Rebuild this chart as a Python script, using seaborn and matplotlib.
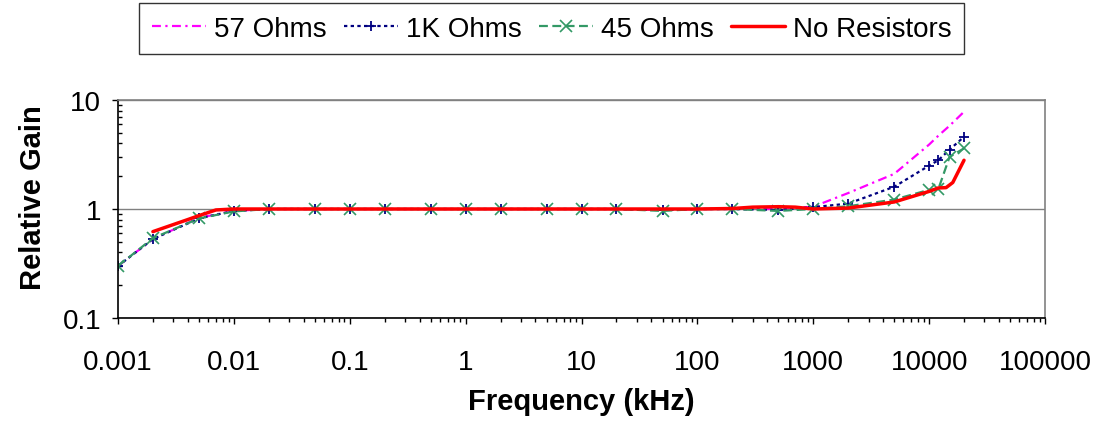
"""Relative gain vs frequency for different termination resistors (log-log)."""
import matplotlib
matplotlib.use("Agg")
import matplotlib.pyplot as plt
from matplotlib.ticker import FuncFormatter, LogLocator, NullFormatter
import seaborn as sns
import pandas as pd

# --- data ---
freq_khz = [0.001, 0.002, 0.005, 0.01, 0.02, 0.05, 0.1, 0.2, 0.5, 1, 2, 5, 10, 20,
            50, 100, 200, 500, 1000, 2000, 5000, 10000, 12000, 15000, 20000]
gain_57 = [0.30, 0.53, 0.83, 0.96, 1.0, 1.0, 1.0, 1.0, 1.0, 1.0, 1.0, 1.0, 1.0, 1.0,
           0.98, 1.0, 1.0, 1.0, 1.05, 1.4, 2.1, 3.9, 4.7, 5.8, 7.8]
gain_1k = [0.30, 0.53, 0.82, 0.96, 1.0, 1.0, 1.0, 1.0, 1.0, 1.0, 1.0, 1.0, 1.0, 1.0,
           0.98, 1.0, 1.0, 0.98, 1.04, 1.12, 1.6, 2.5, 2.8, 3.5, 4.6]
gain_45 = [0.30, 0.54, 0.82, 0.95, 1.0, 1.0, 1.0, 1.0, 1.0, 1.0, 1.0, 1.0, 1.0, 1.0,
           0.96, 1.0, 1.0, 0.96, 1.0, 1.06, 1.22, 1.5, 1.52, 3.0, 3.6]

freq_nores = [0.002, 0.004, 0.005, 0.007, 0.01, 0.1, 1, 10, 100, 200, 300, 500, 700,
              1000, 2000, 5000, 10000, 12000, 14000, 16000, 20000]
gain_nores = [0.62, 0.80, 0.87, 0.98, 1.0, 1.0, 1.0, 1.0, 1.0, 1.01, 1.04, 1.05, 1.04,
              1.0, 1.02, 1.16, 1.45, 1.56, 1.57, 1.75, 2.8]

x_ticks = [0.001, 0.01, 0.1, 1, 10, 100, 1000, 10000, 100000]
y_ticks = [0.1, 1, 10]

sns.set_style("white")
plt.rcParams["font.family"] = ["Liberation Sans", "DejaVu Sans"]
plt.rcParams.update({"text.color": "black", "axes.labelcolor": "black",
                     "xtick.color": "black", "ytick.color": "black"})

fig = plt.figure(figsize=(10.97, 4.27), dpi=100)
ax = fig.add_axes([0.1076, 0.2529, 0.8450, 0.5106])

df_main = pd.DataFrame({"f": freq_khz, "g57": gain_57, "g1k": gain_1k, "g45": gain_45})
df_nr = pd.DataFrame({"f": freq_nores, "g": gain_nores})

# seaborn defaults markeredgecolor to white, so set it explicitly
sns.lineplot(data=df_main, x="f", y="g57", ax=ax, color="#FF00FF", lw=1.6,
             linestyle=(0, (4, 2, 1, 2)), label="57 Ohms")
sns.lineplot(data=df_main, x="f", y="g1k", ax=ax, color="#000080", lw=1.6,
             linestyle=(0, (1.5, 1.5)), marker="+", ms=7, mew=1.3,
             mec="#000080", label="1K Ohms")
sns.lineplot(data=df_main, x="f", y="g45", ax=ax, color="#339966", lw=1.6,
             linestyle=(0, (4, 2)), marker="x", ms=8, mew=1.2,
             mec="#339966", label="45 Ohms")
sns.lineplot(data=df_nr, x="f", y="g", ax=ax, color="#FF0000", lw=2.5,
             label="No Resistors")

ax.set_xscale("log")
ax.set_yscale("log")
ax.set_xlim(0.001, 100000)
ax.set_ylim(0.1, 10)

ax.set_xticks(x_ticks)
ax.set_yticks(y_ticks)
fmt = FuncFormatter(lambda v, _: f"{v:g}")
ax.xaxis.set_major_formatter(fmt)
ax.yaxis.set_major_formatter(fmt)
ax.xaxis.set_minor_locator(LogLocator(base=10, subs=range(2, 10), numticks=20))
ax.yaxis.set_minor_locator(LogLocator(base=10, subs=range(2, 10), numticks=20))
ax.xaxis.set_minor_formatter(NullFormatter())
ax.yaxis.set_minor_formatter(NullFormatter())

ax.tick_params(axis="both", which="major", direction="out", length=4, width=1,
               labelsize=20)
ax.tick_params(axis="x", which="major", bottom=True, pad=18)
ax.tick_params(axis="y", which="major", left=True, pad=8)
ax.tick_params(axis="x", which="minor", direction="out", length=3, width=1,
               bottom=True)
ax.tick_params(axis="y", which="minor", direction="in", length=3, width=1,
               left=True)

ax.yaxis.grid(True, which="major", color="#808080", lw=1)
ax.xaxis.grid(False)
ax.set_axisbelow(True)

for side in ("left", "bottom"):
    ax.spines[side].set_color("black")
    ax.spines[side].set_linewidth(1.2)
for side in ("top", "right"):
    ax.spines[side].set_color("#808080")
    ax.spines[side].set_linewidth(1.2)

ax.set_xlabel("Frequency (kHz)", fontsize=21, fontweight="bold")
ax.set_ylabel("Relative Gain", fontsize=21, fontweight="bold")
ax.xaxis.set_label_coords(0.5, -0.317)
ax.yaxis.set_label_coords(-0.077, 0.555)

handles, labels = ax.get_legend_handles_labels()
ax.legend_.remove()
leg = fig.legend(handles, labels, loc="upper center", bbox_to_anchor=(0.503, 0.9906),
                 ncol=4, fontsize=20, frameon=True, fancybox=False,
                 edgecolor="black", handlelength=1.95, columnspacing=0.6,
                 handletextpad=0.3, borderpad=0.45, borderaxespad=0)
leg.get_frame().set_linewidth(1.0)

fig.savefig("out.png", dpi=100)
plt.close(fig)
